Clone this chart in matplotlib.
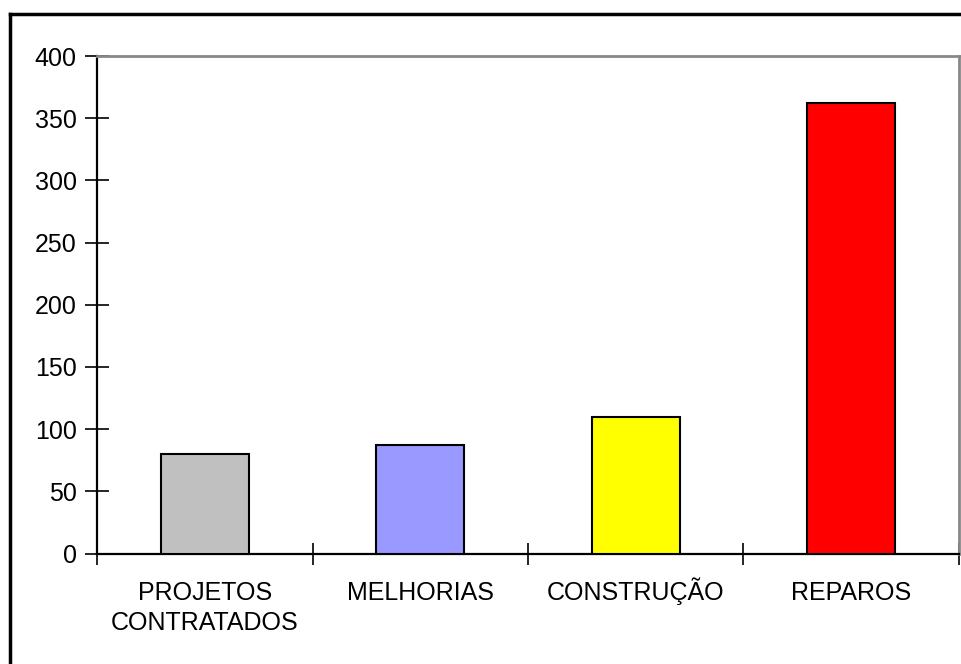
import matplotlib
matplotlib.use("Agg")
import matplotlib.pyplot as plt
from matplotlib.lines import Line2D
from matplotlib.transforms import blended_transform_factory

categories = ["PROJETOS\nCONTRATADOS", "MELHORIAS", "CONSTRUÇÃO", "REPAROS"]
values = [80, 87, 110, 362]
colors = ["#c0c0c0", "#9999ff", "#ffff00", "#ff0000"]
yticks = [0, 50, 100, 150, 200, 250, 300, 350, 400]

plt.rcParams['font.family'] = ['Liberation Sans', 'DejaVu Sans']

W, H = 962, 664
fig = plt.figure(figsize=(W/100, H/100), dpi=100)
ax = fig.add_axes([97/W, 1-553.5/H, (959-97)/W, (553.5-56)/H])

x = list(range(len(categories)))
ax.bar(x, values, width=0.41, color=colors, edgecolor='black', linewidth=1.5, zorder=3)

ax.set_xlim(-0.5, len(categories)-0.5)
ax.set_ylim(0, 400)
ax.set_yticks(yticks)
ax.set_yticklabels([str(v) for v in yticks], fontsize=18)

ax.set_xticks([i - 0.5 for i in range(len(categories)+1)])
ax.set_xticklabels([])
ax.tick_params(axis='x', direction='inout', length=16, width=1.2, color='black')
ax.tick_params(axis='y', direction='inout', length=17, width=1.2, pad=6)

# category labels placed line by line on a common baseline
trans = blended_transform_factory(ax.transData, fig.transFigure)
for xi, lab in zip(x, categories):
    for k, line in enumerate(lab.split("\n")):
        ax.text(xi, 1 - (600 + 30*k)/H, line, transform=trans, ha='center',
                va='baseline', fontsize=18)

for s in ['left', 'bottom']:
    ax.spines[s].set_color('black')
    ax.spines[s].set_linewidth(1.6)
for s in ['top', 'right']:
    ax.spines[s].set_color('#888888')
    ax.spines[s].set_linewidth(2)

# outer chart border (left and top visible, right/bottom cropped)
fig.add_artist(Line2D([10/W, 10/W], [-0.05, 1-14/H], transform=fig.transFigure, color='black', lw=2.5))
fig.add_artist(Line2D([10/W, 1.05], [1-14/H, 1-14/H], transform=fig.transFigure, color='black', lw=2.5))

fig.savefig("out.png", dpi=100)
